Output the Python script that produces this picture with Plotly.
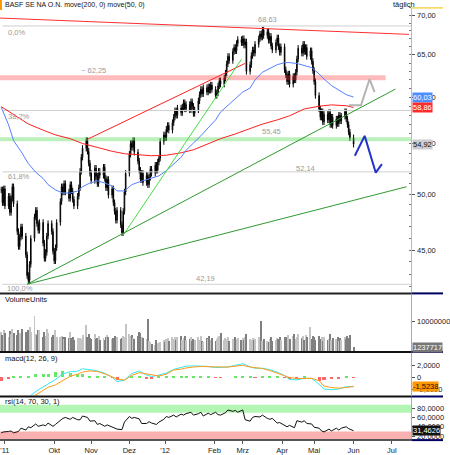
import math
import pandas as pd
import plotly.graph_objects as go

# daily closes (Aug 2011 - Jun 2012)
close = [
    50.4, 49.2, 50.5, 48.9, 49.8, 48.3, 49.6, 50.7, 49.1, 46.6,
    45.3, 46.1, 47.0, 46.2, 44.6, 42.9, 42.5, 43.8, 46.0, 47.9,
    48.5, 47.3, 46.7, 47.4, 45.6, 44.3, 44.8, 46.2, 47.3, 46.6,
    44.9, 44.1, 45.2, 47.4, 49.3, 50.7, 50.2, 51.0, 50.2, 49.6,
    50.9, 50.3, 49.5, 48.9, 49.8, 50.6, 52.2, 53.6, 54.5, 55.3,
    54.2, 53.0, 52.0, 51.3, 52.5, 51.7, 51.0, 52.2, 51.8, 52.6,
    51.5, 50.6, 51.4, 49.9, 50.5, 49.2, 48.4, 47.6, 48.5, 47.2,
    46.5, 48.4, 50.2, 52.0, 53.9, 55.0, 54.6, 55.3, 54.1, 53.2,
    52.3, 51.4, 52.0, 51.1, 51.8, 50.9, 51.6, 52.4, 52.0, 52.8,
    52.3, 53.1, 53.5, 55.2, 55.9, 55.6, 56.5, 56.9, 56.4, 57.2,
    57.8, 58.5, 58.0, 58.8, 58.3, 58.9, 59.4, 58.7, 59.2, 58.6,
    59.5, 59.0, 58.2, 58.6, 59.6, 60.3, 60.9, 60.4, 61.1, 60.6,
    61.2, 60.8, 61.4, 60.9, 60.2, 60.5, 61.3, 61.9, 61.5, 62.2,
    62.8, 63.9, 64.8, 64.3, 65.4, 65.9, 65.5, 66.4, 66.9, 66.5,
    67.0, 66.2, 66.6, 63.0, 63.8, 64.9, 65.6, 65.2, 66.3, 67.0,
    67.6, 67.2, 68.1, 67.4, 67.9, 66.8, 67.3, 66.1, 65.6, 66.5,
    67.1, 66.0, 65.3, 66.0, 63.2, 62.6, 61.8, 62.7, 61.5, 62.4,
    62.0, 62.9, 64.5, 65.8, 65.2, 66.3, 65.4, 65.9, 64.8, 65.5,
    64.2, 63.1, 61.8, 60.2, 58.7, 57.8, 58.4, 57.3, 58.1, 57.5,
    58.3, 57.0, 57.8, 56.9, 57.6, 57.1, 58.0, 57.4, 57.9, 58.4,
    57.6, 57.0, 56.2, 55.6, 54.92,
]

# volume in millions
volume = [
    6.2, 5.1, 7.0, 5.8, 4.4, 6.5, 5.5, 7.1, 6.0, 5.3,
    6.8, 5.9, 4.9, 7.3, 6.2, 5.6, 7.0, 7.9, 6.4, 11.5,
    5.4, 5.3, 6.9, 7.0, 4.7, 6.1, 5.0, 7.3, 5.8, 4.6,
    5.1, 4.9, 7.0, 4.6, 4.4, 4.8, 4.4, 3.9, 4.6, 4.2,
    6.1, 4.1, 4.6, 3.7, 4.3, 3.6, 4.2, 4.0, 5.2, 8.6,
    4.4, 5.6, 4.3, 3.8, 5.6, 3.9, 4.2, 4.8, 3.5, 4.1,
    3.6, 4.6, 5.1, 4.5, 3.8, 4.1, 4.8, 4.3, 4.6, 3.9,
    4.2, 5.0, 4.4, 9.0, 5.5, 4.8, 5.2, 4.3, 3.8, 4.9,
    6.1, 6.0, 4.4, 4.1, 3.9, 10.6, 3.2, 2.8, 2.2, 1.9,
    3.4, 2.5, 1.8, 2.7, 3.6, 2.9, 3.8, 4.2, 3.3, 4.5,
    3.9, 4.6, 3.5, 4.4, 5.0, 3.6, 4.2, 4.8, 3.4, 3.9,
    4.6, 3.2, 4.0, 3.7, 4.5, 3.6, 4.8, 3.3, 3.0, 4.2,
    3.8, 4.9, 3.5, 4.3, 3.1, 3.9, 4.4, 4.9, 6.0, 3.6,
    4.1, 3.8, 4.5, 3.3, 4.0, 3.7, 4.6, 3.9, 4.3, 3.5,
    4.1, 3.6, 4.7, 5.4, 3.8, 3.4, 4.2, 3.5, 3.9, 4.6,
    3.7, 9.8, 3.1, 4.0, 3.3, 2.9, 3.8, 4.4, 3.2, 3.6,
    4.3, 3.9, 4.6, 3.4, 4.5, 3.8, 4.4, 5.1, 4.0, 5.0,
    5.4, 3.9, 4.7, 5.6, 4.2, 4.9, 3.7, 5.2, 4.4, 7.8,
    3.9, 4.8, 4.5, 3.6, 5.0, 3.8, 4.4, 3.3, 4.6, 3.7,
    4.0, 5.5, 3.4, 4.2, 3.9, 4.7, 3.2, 4.1, 3.6, 4.5,
    3.8, 4.9, 4.2, 5.1, 1.237717,
]

# moving averages, sampled every 4th / 8th session
ma50_idx = list(range(0, 205, 4))
ma50 = [
    58.9, 56.95, 55.3, 54.2, 52.97, 52.1, 51.5, 50.9, 50.4, 50.1,
    50.1, 50.3, 50.7, 51.06, 51.26, 51.06, 50.77, 50.3, 50.3, 50.9,
    51.16, 51.36, 51.56, 51.75, 52.25, 52.9, 53.6, 54.3, 55.0, 55.8,
    56.65, 57.5, 58.35, 59.1, 59.9, 60.6, 61.05, 62.0, 62.9, 63.3,
    63.8, 64.05, 64.05, 63.95, 63.7, 63.45, 62.7, 62.1, 61.35, 60.8,
    60.3, 60.03,
]
ma200_idx = list(range(0, 201, 8)) + [204]
ma200 = [
    58.95, 58.1, 57.06, 56.4, 55.9, 55.5, 55.0, 54.6, 54.2, 53.95,
    53.8, 53.75, 53.8, 54.05, 54.35, 54.95, 55.5, 56.0, 56.6, 57.05,
    57.5, 57.95, 58.7, 59.0, 59.15, 59.05, 58.86,
]

# macd(12, 26, 9), sampled every 4th session
macd_idx = list(range(0, 205, 4))
macd = [
    -4.6, -4.4, -4.0, -3.7, -3.4, -2.4, -1.6, -1.1, -0.4, 0.55,
    0.9, 1.0, 1.4, 1.25, 1.05, 0.65, 0.0, -0.75, -0.5, 0.6,
    1.05, 0.35, 0.1, 0.35, 0.7, 1.3, 1.6, 1.85, 1.9, 1.9,
    1.8, 1.6, 1.6, 1.7, 2.0, 2.25, 1.75, 1.5, 1.5, 1.25,
    0.85, 0.25, -0.4, -0.45, -0.2, -0.2, -1.2, -2.0, -2.1, -2.0,
    -1.6, -1.62,
]
signal = [
    -4.0, -4.2, -4.2, -4.0, -3.7, -3.0, -2.2, -1.7, -1.3, -0.55,
    0.15, 0.5, 0.85, 1.05, 0.95, 0.55, 0.1, -0.3, -0.5, 0.3,
    0.75, 0.55, 0.35, 0.2, 0.5, 1.2, 1.35, 1.55, 1.7, 1.8,
    1.75, 1.7, 1.65, 1.7, 1.85, 2.0, 1.7, 1.6, 1.45, 1.1,
    0.65, 0.3, -0.05, -0.25, -0.25, -0.2, -0.6, -1.5, -1.75, -1.85,
    -1.75, -1.5238,
]

# rsi(14), every 2nd session
rsi_idx = list(range(0, 205, 2))
rsi = [
    27, 29, 30, 31, 27, 30, 37, 33, 40, 38,
    46, 41, 44, 42, 48, 41, 45, 55, 58, 60,
    56, 60, 55, 55, 63, 60, 52, 53, 45, 47,
    41, 44, 39, 37, 35, 34, 50, 62, 58, 60,
    57, 47, 47, 51, 48, 45, 50, 56, 62, 60,
    65, 61, 67, 65, 68, 71, 65, 68, 71, 63,
    69, 66, 71, 66, 65, 70, 76, 73, 75, 71,
    76, 55, 52, 60, 62, 61, 65, 58, 56, 58,
    48, 49, 43, 40, 43, 38, 53, 50, 53, 47,
    46, 39, 37, 31, 29, 35, 31, 37, 33, 37,
    40, 36, 31.4626,
]

# drawn levels and trend lines
fib_levels = [68.63, 58.53, 52.14, 42.19]
resist_band = 62.25
support_band = 55.45
red_top = (["2011-08-22", "2012-07-19"], [69.66, 67.55])
red_up = (["2011-11-01", "2012-03-08"], [55.44, 63.96])
green_steep = (["2011-11-30", "2012-03-05"], [46.28, 64.45])
green_mid = (["2011-09-13", "2012-07-08"], [42.19, 60.94])
green_low = (["2011-09-13", "2012-07-17"], [42.19, 50.70])
proj_gray = (["2012-05-31", "2012-06-10", "2012-06-17", "2012-06-21"], [59.1, 59.1, 62.1, 60.6])
proj_blue = (["2012-06-05", "2012-06-13", "2012-06-22", "2012-06-27"], [53.75, 55.8, 52.06, 52.9])

month_ticks = ["2011-08-26", "2011-10-05", "2011-11-04", "2011-12-05", "2012-01-03",
               "2012-02-12", "2012-03-06", "2012-04-07", "2012-05-03", "2012-06-04", "2012-07-05"]
month_text = ["'11", "Okt", "Nov", "Dez", "'12", "Feb", "Mrz", "Apr", "Mai", "Jun", "Jul"]

W, H = 450, 455
FONT = "Liberation Sans Narrow, Liberation Sans, Arial"
X0, X1 = "2011-08-22", "2012-07-21"


def px(x):
    return x / W


def py(y):
    return 1 - y / H


dates = pd.bdate_range("2011-08-23", periods=len(close))
opens = [close[0]] + close[:-1]
highs = [max(o, c) * 1.006 for o, c in zip(opens, close)]
lows = [min(o, c) * 0.994 for o, c in zip(opens, close)]
vol_colors = ["#c4c4c4" if c >= o else "#808080" for o, c in zip(opens, close)]
hist = [m - s for m, s in zip(macd, signal)]

fig = go.Figure()


def line(xs, ys, color, width=1, yaxis="y"):
    fig.add_trace(go.Scatter(x=xs, y=ys, mode="lines", yaxis=yaxis,
                             line=dict(color=color, width=width),
                             hoverinfo="skip", showlegend=False))


# bands and levels
line([X0, "2012-06-30"], [resist_band, resist_band], "rgba(255,60,60,0.35)", 5)
line([X0, X1], [support_band, support_band], "rgba(60,210,60,0.35)", 4)
for lv in fib_levels:
    line(["2011-08-24", X1], [lv, lv], "#cfcfcf", 1)

# moving averages
line([dates[i] for i in ma200_idx], ma200, "#ff2020", 1)
line([dates[i] for i in ma50_idx], ma50, "#5580ff", 1)

# trend lines
line(*red_top, "#ff3030", 1)
line(*red_up, "#ff2020", 1)
line(*green_steep, "#44dd44", 1)
line(*green_mid, "#2f9a2f", 1)
line(*green_low, "#2f9a2f", 1)

fig.add_trace(go.Candlestick(
    x=dates, open=opens, high=highs, low=lows, close=close,
    increasing=dict(line=dict(color="black", width=1), fillcolor="#bdbdbd"),
    decreasing=dict(line=dict(color="black", width=1), fillcolor="black"),
    whiskerwidth=0, hoverinfo="skip", showlegend=False
))

line(*proj_gray, "#b4b4b4", 2)
line(*proj_blue, "#2233cc", 2)

# volume
fig.add_trace(go.Bar(x=dates, y=[v * 1e6 for v in volume], yaxis="y2",
                     marker=dict(color=vol_colors, line_width=0),
                     width=86400000 * 0.8, showlegend=False, hoverinfo="skip"))

# macd
hd = [dates[i] for i in macd_idx]
fig.add_trace(go.Bar(x=hd, y=hist, yaxis="y3",
                     marker=dict(color=["#66e866" if h >= 0 else "#ff6666" for h in hist], line_width=0),
                     width=86400000 * 2.5, showlegend=False, hoverinfo="skip"))
line(hd, macd, "#33e8f0", 1, "y3")
line(hd, signal, "#ff9a1a", 1, "y3")

# rsi
line([dates[i] for i in rsi_idx], rsi, "#111111", 1, "y4")

axis_font = dict(family=FONT, size=7.5, color="#222222")
common_y = dict(side="right", anchor="x", showgrid=False, zeroline=False, ticks="outside",
                ticklen=3, tickcolor="#555555", tickfont=axis_font, showline=True,
                linecolor="#aaaaaa", linewidth=1, fixedrange=True)

shapes = [
    dict(type="rect", xref="x domain", yref="y4", x0=0, x1=1, y0=70, y1=87,
         fillcolor="#b3f5b3", line_width=0, layer="below"),
    dict(type="rect", xref="x domain", yref="y4", x0=0, x1=1, y0=11.5, y1=30,
         fillcolor="#f9b0b0", line_width=0, layer="below"),
    dict(type="rect", xref="paper", yref="paper", x0=0, x1=px(2), y0=py(10), y1=py(0),
         fillcolor="#ff9900", line_width=0),
    dict(type="line", xref="paper", yref="paper", x0=px(418), x1=1, y0=py(8), y1=py(8),
         line=dict(color="#f0c000", width=1)),
]
for yy, col in [(296, "#222222"), (355, "#111111"), (400, "#111111"), (444, "#555555")]:
    shapes.append(dict(type="line", xref="paper", yref="paper", x0=0, x1=px(418),
                       y0=py(yy), y1=py(yy), line=dict(color=col, width=2)))
    shapes.append(dict(type="line", xref="paper", yref="paper", x0=px(418), x1=1,
                       y0=py(yy), y1=py(yy), line=dict(color="#000060", width=2)))

annotations = []


def label(text, x, y, anchor="left", color="#9a9a9a", size=7.5):
    annotations.append(dict(text=text, x=px(x), y=py(y), xref="paper", yref="paper",
                            xanchor=anchor, yanchor="middle", showarrow=False,
                            font=dict(family=FONT, size=size, color=color)))


label("BASF SE NA O.N. move(200, 0) move(50, 0)", 3, 5, color="#111111", size=7)
label("täglich", 397, 5, color="#111111")
label("0,0%", 6, 33)
label("68,63", 272, 20, "center")
label("~ 62,25", 95, 71, "center")
label("38,2%", 6, 118)
label("55,45", 276, 133, "center")
label("61,8%", 6, 178)
label("52,14", 310, 170, "center")
label("42,19", 209, 281, "center")
label("100,0%", 5, 291)
label("VolumeUnits", 3, 302, color="#111111")
label("macd(12, 26, 9)", 3, 362, color="#111111")
label("rsi(14, 70, 30, 1)", 3, 405, color="#111111")


def value_box(text, yref, yval, bg, fg):
    annotations.append(dict(text=text, x=px(419), y=yval, xref="paper", yref=yref,
                            xanchor="left", yanchor="middle", showarrow=False,
                            bgcolor=bg, borderpad=0,
                            font=dict(family=FONT, size=7.5, color=fg)))


value_box("60,03", "y", math.log10(ma50[-1]), "#4d8dff", "#ffffff")
value_box("58,86", "y", math.log10(ma200[-1]), "#ff2a2a", "#ffffff")
value_box("54,92", "y", math.log10(close[-1]), "#cccccc", "#111111")
value_box("1237717", "y2", volume[-1] * 1e6, "#777777", "#ffffff")
value_box("-1,5238", "y3", signal[-1], "#ff9900", "#111111")
value_box("31,4626", "y4", rsi[-1], "#111111", "#ffffff")

fig.update_layout(
    width=W, height=H,
    margin=dict(l=0, r=0, t=0, b=0),
    paper_bgcolor="white", plot_bgcolor="white",
    showlegend=False, bargap=0,
    font=dict(family=FONT, size=7.5, color="#222222"),
    xaxis=dict(type="date", range=[X0, X1], domain=[0, px(418)], anchor="y4",
               tickvals=month_ticks, ticktext=month_text, ticks="outside", ticklen=3,
               tickcolor="#555555", tickfont=axis_font, showgrid=False, zeroline=False,
               showline=False, rangeslider=dict(visible=False), fixedrange=True),
    yaxis=dict(common_y, domain=[py(295), py(8)], type="log",
               range=[math.log10(41.55), math.log10(71.0)],
               tickvals=[45, 50, 55, 60, 65, 70],
               ticktext=["45,00", "50,00", "55,00", "60,00", "65,00", "70,00"],
               linecolor="#f0c000",
               minor=dict(tickvals=list(range(42, 72)), ticks="inside", ticklen=2,
                          tickcolor="#777777")),
    yaxis2=dict(common_y, domain=[py(354), py(298)], range=[0, 18.7e6],
                tickvals=[1e7], ticktext=["10000000"]),
    yaxis3=dict(common_y, domain=[py(399), py(356)], range=[-3.08, 4.08],
                tickvals=[2, 0, -2], ticktext=["2,0000", "0", "-2,0000"]),
    yaxis4=dict(common_y, domain=[py(444), py(401)], range=[11.5, 102.7],
                tickvals=[80, 60, 40, 20],
                ticktext=["80,0000", "60,0000", "40,0000", "20,0000"]),
    shapes=shapes,
    annotations=annotations,
)

# page body has a default margin; drop it so the figure sits at the window origin
fig.write_html("out.html", config={"displayModeBar": False},
               post_script="document.body.style.margin='0px';")
